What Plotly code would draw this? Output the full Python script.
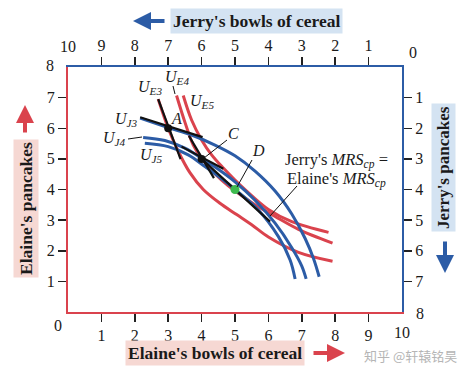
import plotly.graph_objects as go

# ---------------- data (Elaine's coordinates: x = Elaine's cereal, y = Elaine's pancakes)
elaine_cereal_ticks = [1, 2, 3, 4, 5, 6, 7, 8, 9]
jerry_cereal_ticks = [1, 2, 3, 4, 5, 6, 7, 8, 9]
elaine_pancake_ticks = [1, 2, 3, 4, 5, 6, 7]
jerry_pancake_ticks = [1, 2, 3, 4, 5, 6, 7]

# Elaine's indifference curves (red)
ue3_x = [2.70, 3.00, 3.30, 3.65, 4.05, 4.55, 5.05, 5.50, 6.00, 6.90, 7.92]
ue3_y = [6.95, 6.00, 5.25, 4.55, 4.00, 3.55, 3.18, 2.85, 2.45, 1.95, 1.66]
ue4_x = [3.25, 3.50, 3.75, 4.00, 4.40, 4.80, 5.10, 5.60, 6.20, 6.90, 7.92]
ue4_y = [7.07, 6.20, 5.45, 5.02, 4.52, 4.12, 3.88, 3.50, 3.12, 2.70, 2.25]
ue5_x = [3.45, 3.70, 4.00, 4.30, 4.65, 5.00, 5.30, 6.00, 6.70, 7.80]
ue5_y = [7.07, 6.27, 5.62, 5.13, 4.70, 4.31, 4.00, 3.35, 2.95, 2.60]

# Jerry's indifference curves (blue)
uj3_x = [2.16, 3.00, 3.70, 4.40, 5.00, 5.60, 6.20, 6.70, 7.10, 7.35, 7.52]
uj3_y = [6.33, 6.02, 5.78, 5.45, 5.10, 4.60, 3.95, 3.20, 2.40, 1.75, 1.15]
uj4_x = [2.25, 2.90, 3.50, 4.00, 4.50, 5.00, 5.60, 6.20, 6.70, 7.00, 7.13]
uj4_y = [5.70, 5.60, 5.35, 5.02, 4.66, 4.25, 3.65, 2.90, 2.10, 1.50, 1.08]
uj5_x = [2.30, 3.00, 3.60, 4.10, 4.60, 5.00, 5.70, 6.30, 6.65, 6.80]
uj5_y = [5.51, 5.40, 5.13, 4.75, 4.35, 4.00, 3.33, 2.46, 1.70, 1.08]

# MRS lines (black)
mrs_a_elaine_x = [2.70, 3.37]
mrs_a_elaine_y = [6.95, 4.99]
mrs_a_jerry_x = [2.16, 4.03]
mrs_a_jerry_y = [6.36, 5.71]
mrs_c_elaine_x = [3.62, 4.37]
mrs_c_elaine_y = [5.75, 4.37]
mrs_c_jerry_x = [3.40, 4.65]
mrs_c_jerry_y = [5.40, 4.68]
mrs_d_x = [3.95, 6.05]
mrs_d_y = [5.05, 2.95]

# allocations
pts_black_x = [3, 4]
pts_black_y = [6, 5]
pt_d_x = [5]
pt_d_y = [4]

RED = "#da434d"
BLUE = "#2c5ca6"
GREEN = "#3dba4e"
SERIF = "Liberation Serif"

W, H = 474, 376
L, R, T, B = 68, 72, 67, 64
PW, PH = W - L - R, H - T - B


def px(xp):
    return (xp - L) / PW


def py(yp):
    return (H - B - yp) / PH


fig = go.Figure()


def curve(x, y, color, width=3):
    fig.add_trace(go.Scatter(x=x, y=y, mode="lines", hoverinfo="skip",
                             line=dict(color=color, width=width, shape="spline", smoothing=1.0)))


for xs, ys in [(ue3_x, ue3_y), (ue4_x, ue4_y), (ue5_x, ue5_y)]:
    curve(xs, ys, RED)
for xs, ys in [(uj3_x, uj3_y), (uj4_x, uj4_y), (uj5_x, uj5_y)]:
    curve(xs, ys, BLUE)
for xs, ys in [(mrs_a_elaine_x, mrs_a_elaine_y), (mrs_a_jerry_x, mrs_a_jerry_y),
               (mrs_c_elaine_x, mrs_c_elaine_y), (mrs_c_jerry_x, mrs_c_jerry_y),
               (mrs_d_x, mrs_d_y)]:
    fig.add_trace(go.Scatter(x=xs, y=ys, mode="lines", hoverinfo="skip",
                             line=dict(color="#111111", width=2.2)))

fig.add_trace(go.Scatter(x=pts_black_x, y=pts_black_y, mode="markers", hoverinfo="skip",
                         marker=dict(color="#111111", size=8)))
fig.add_trace(go.Scatter(x=pt_d_x, y=pt_d_y, mode="markers", hoverinfo="skip",
                         marker=dict(color=GREEN, size=9)))
# invisible trace to activate Jerry's axes
fig.add_trace(go.Scatter(x=[5], y=[4], xaxis="x2", yaxis="y2", mode="markers",
                         hoverinfo="skip", marker=dict(opacity=0)))

tickfont = dict(family=SERIF, size=16, color="#1a1a1a")
common = dict(showgrid=False, zeroline=False, showline=True, linewidth=2,
              ticks="outside", ticklen=8, tickwidth=1.5, tickcolor="#222222",
              tickfont=tickfont, fixedrange=True)

fig.update_layout(
    width=W, height=H,
    margin=dict(l=L, r=R, t=T, b=B, pad=0),
    paper_bgcolor="white", plot_bgcolor="white",
    showlegend=False,
    xaxis=dict(range=[0, 10], tickvals=elaine_cereal_ticks,
               ticktext=[str(v) for v in elaine_cereal_ticks], linecolor=RED, **common),
    yaxis=dict(range=[0, 8], tickvals=elaine_pancake_ticks,
               ticktext=[str(v) for v in elaine_pancake_ticks], linecolor=RED, **common),
    xaxis2=dict(range=[10, 0], overlaying="x", side="top", anchor="y2",
                tickvals=jerry_cereal_ticks,
                ticktext=[str(v) for v in jerry_cereal_ticks], linecolor=BLUE, **common),
    yaxis2=dict(range=[8, 0], overlaying="y", side="right", anchor="x2",
                tickvals=jerry_pancake_ticks,
                ticktext=[str(v) for v in jerry_pancake_ticks], linecolor=BLUE, **common),
)

ann = []


def text(xp, yp, s, size=16, color="#1a1a1a", family=SERIF, **kw):
    ann.append(dict(x=px(xp), y=py(yp), xref="paper", yref="paper", text=s,
                    showarrow=False, font=dict(family=family, size=size, color=color),
                    xanchor="center", yanchor="middle", **kw))


# corner labels
text(402, 332, "10")
text(58, 325, "0")
text(68, 47, "10")
text(413, 53, "0")
text(50, 66, "8")
text(420, 313, "8")

# axis titles
text(256, 21, "<b>Jerry's bowls of cereal</b>", size=17.5, bgcolor="#d4e3f2", borderpad=2)
text(215, 353, "<b>Elaine's bowls of cereal</b>", size=17.5, bgcolor="#f6d8d3", borderpad=2)
text(26, 209, "<b>Elaine's pancakes</b>", size=17.5, bgcolor="#f6d8d3", borderpad=2, textangle=-90)
text(443, 168, "<b>Jerry's pancakes</b>", size=17, bgcolor="#d4e3f2", borderpad=2, textangle=-90)

# watermark
text(410, 355, "知乎 @轩辕铭昊", size=13, color="#b5b5b5", family="Noto Sans CJK SC")

# curve labels
text(150, 87, "<i>U<sub>E3</sub></i>", size=16)
text(177, 77, "<i>U<sub>E4</sub></i>", size=16)
text(202, 101, "<i>U<sub>E5</sub></i>", size=16)
text(126, 119, "<i>U<sub>J3</sub></i>", size=16)
text(114, 138, "<i>U<sub>J4</sub></i>", size=16)
text(151, 155, "<i>U<sub>J5</sub></i>", size=16)
text(176, 118, "<i>A</i>", size=16)
text(233, 133, "<i>C</i>", size=16)
text(258, 150, "<i>D</i>", size=16)
text(336, 160, "Jerry's <i>MRS<sub>cp</sub></i> =", size=16.5)
text(336, 179, "Elaine's <i>MRS<sub>cp</sub></i>", size=16.5)


def arrow(tipx, tipy, tailx, taily, color):
    ann.append(dict(x=px(tipx), y=py(tipy), xref="paper", yref="paper", text="",
                    showarrow=True, ax=tailx - tipx, ay=taily - tipy,
                    arrowhead=2, arrowsize=0.9, arrowwidth=4, arrowcolor=color))


arrow(133, 21, 166, 21, BLUE)
arrow(345, 353, 312, 353, RED)
arrow(25, 105, 25, 134, RED)
arrow(445, 273, 445, 240, BLUE)

fig.update_layout(annotations=ann)

shapes = []


def seg(x0, y0, x1, y1):
    shapes.append(dict(type="line", xref="paper", yref="paper",
                       x0=px(x0), y0=py(y0), x1=px(x1), y1=py(y1),
                       line=dict(color="#111111", width=1)))


seg(173, 86, 175, 94)      # U_E4 leader
seg(128, 139, 142, 137)    # U_J4 leader
seg(227, 140, 204, 158)    # C leader
seg(252, 160, 237, 187)    # D leader
seg(297, 186, 270, 216)    # MRS leader
fig.update_layout(shapes=shapes)

fig.write_html("out.html", config={"displayModeBar": False, "staticPlot": True},
               post_script="document.body.style.margin='0px';")
